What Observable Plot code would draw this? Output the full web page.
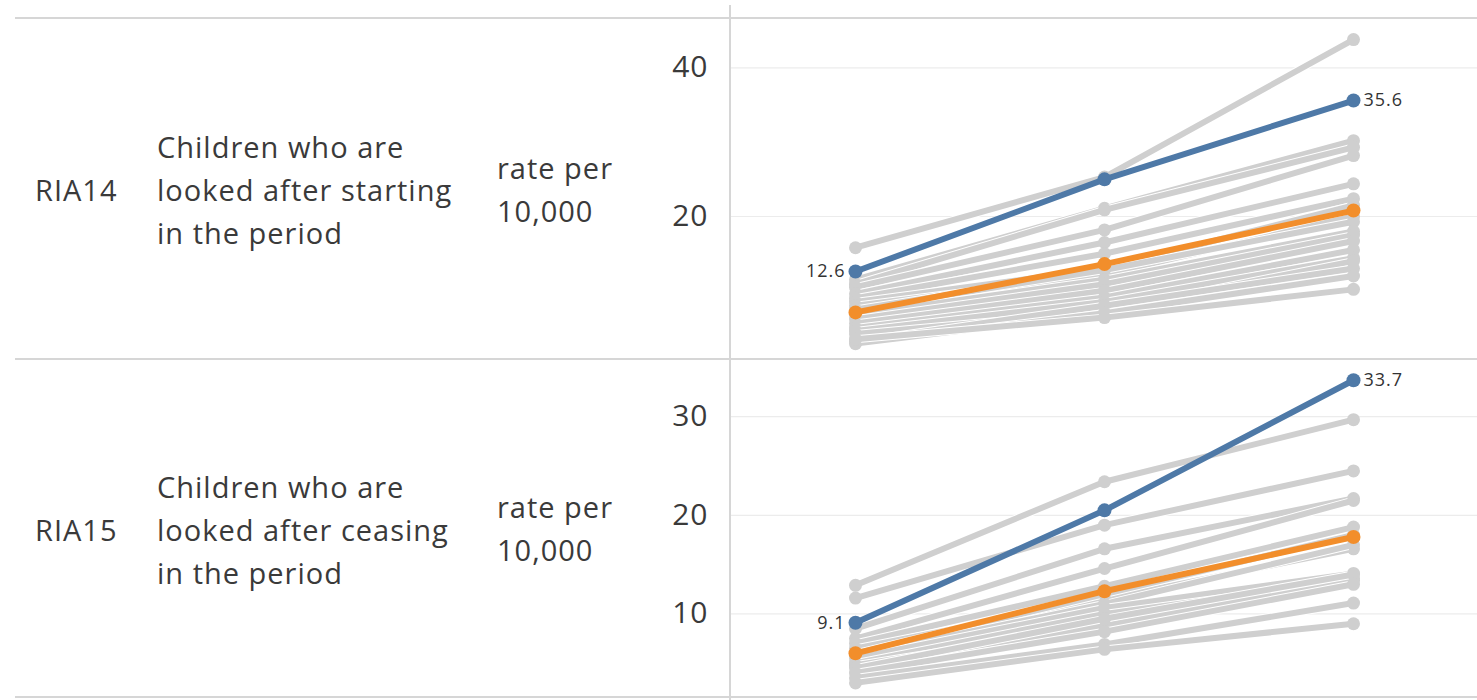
<!DOCTYPE html>
<html><head><meta charset="utf-8">
<script src="https://cdn.jsdelivr.net/npm/d3@7"></script>
<script src="https://cdn.jsdelivr.net/npm/@observablehq/plot@0.6"></script>
<style>
body{margin:0;background:#fff;font-family:"Open Sans",sans-serif;color:#3a3a3a;}
#root{position:relative;width:1477px;height:700px;overflow:hidden;background:#fff}
.hline{position:absolute;left:15px;width:1462px;height:2px;background:#d6d6d6;z-index:3}
.vline{position:absolute;left:729px;top:5px;width:2px;height:695px;background:#d6d6d6;z-index:3}
.cell{position:absolute;display:flex;flex-direction:column;justify-content:center;font-size:29px;letter-spacing:1px;line-height:43px;white-space:nowrap}
.plotwrap{position:absolute;left:640px;z-index:1}
.plotwrap svg text{letter-spacing:1px}
</style></head>
<body><div id="root"></div>
<script>
// ---- data ----
const periods = ["P1", "P2", "P3"];
const codes = ["RIA14", "RIA15"];
const titles = [
  ["Children who are", "looked after starting", "in the period"],
  ["Children who are", "looked after ceasing", "in the period"]
];
const units = [["rate per", "10,000"], ["rate per", "10,000"]];

const ria14Ticks = [20, 40];
const ria14Blue = [12.6, 25.0, 35.6];
const ria14Orange = [7.1, 13.6, 20.8];
const ria14Grey = [
  [15.8, 25.3, 43.8],
  [11.5, 21.1, 30.2],
  [10.9, 20.9, 29.3],
  [10.5, 18.2, 28.2],
  [9.6, 16.5, 24.4],
  [9.0, 15.0, 22.4],
  [8.5, 13.0, 21.5],
  [8.0, 12.2, 20.0],
  [7.5, 12.8, 19.3],
  [6.8, 11.5, 18.0],
  [6.2, 10.9, 17.5],
  [5.6, 10.0, 16.7],
  [5.0, 9.1, 15.5],
  [4.6, 8.5, 14.4],
  [4.2, 7.3, 14.0],
  [3.2, 8.0, 13.0],
  [2.9, 7.0, 12.0],
  [3.5, 6.4, 10.2]
];

const ria15Ticks = [10, 20, 30];
const ria15Blue = [9.1, 20.5, 33.7];
const ria15Orange = [6.0, 12.3, 17.8];
const ria15Grey = [
  [12.9, 23.4, 29.7],
  [11.6, 19.0, 24.5],
  [8.5, 16.6, 21.7],
  [7.5, 14.6, 21.5],
  [7.0, 12.8, 18.8],
  [6.5, 11.5, 16.6],
  [6.0, 12.0, 18.0],
  [5.8, 11.0, 17.0],
  [5.5, 10.6, 14.1],
  [5.0, 10.0, 13.4],
  [4.8, 8.8, 13.6],
  [4.5, 9.5, 14.0],
  [4.0, 8.2, 13.0],
  [3.5, 6.9, 11.1],
  [3.0, 6.4, 9.0]
];

// ---- helpers ----
const toRows = (vals, id) => vals.map((v, j) => ({period: periods[j], value: v, series: id}));

function panel(ticks, yDomain, blue, orange, greys, h) {
  const marks = [
    Plot.gridY(ticks, {stroke: "#ececec", strokeOpacity: 1, strokeWidth: 1.2}),
    Plot.axisY(ticks, {tickSize: 0, tickPadding: 22, fontSize: 30, fill: "#3a3a3a", label: null})
  ];
  greys.forEach((s, i) => {
    const rows = toRows(s, i);
    marks.push(Plot.line(rows, {x: "period", y: "value", stroke: "#ffffff", strokeWidth: 8}));
    marks.push(Plot.line(rows, {x: "period", y: "value", stroke: "#cfcfcf", strokeWidth: 6}));
    marks.push(Plot.dot(rows, {x: "period", y: "value", r: 6.5, fill: "#cfcfcf"}));
  });
  const o = toRows(orange, "orange");
  const b = toRows(blue, "blue");
  marks.push(Plot.line(o, {x: "period", y: "value", stroke: "#f28e2b", strokeWidth: 6}));
  marks.push(Plot.dot(o, {x: "period", y: "value", r: 7, fill: "#f28e2b"}));
  marks.push(Plot.line(b, {x: "period", y: "value", stroke: "#4e79a7", strokeWidth: 6}));
  marks.push(Plot.dot(b, {x: "period", y: "value", r: 7, fill: "#4e79a7"}));
  marks.push(Plot.text([b[0]], {x: "period", y: "value", text: d => d.value.toFixed(1), textAnchor: "end", dx: -10, fontSize: 18, fill: "#333"}));
  marks.push(Plot.text([b[2]], {x: "period", y: "value", text: d => d.value.toFixed(1), textAnchor: "start", dx: 10, fontSize: 18, fill: "#333"}));
  return Plot.plot({
    width: 837, height: h,
    marginLeft: 90, marginRight: 0, marginTop: 0, marginBottom: 0,
    x: {type: "point", domain: periods, padding: 0.5, axis: null},
    y: {domain: yDomain, axis: null},
    style: {fontFamily: "'Open Sans', sans-serif", background: "transparent", overflow: "visible"},
    marks
  });
}

const root = document.getElementById("root");
function add(html) { const d = document.createElement("div"); d.innerHTML = html; const el = d.firstChild; root.appendChild(el); return el; }

[17, 358, 696].forEach(y => add(`<div class="hline" style="top:${y}px"></div>`));
add(`<div class="vline"></div>`);

const rows = [
  {top: 19, h: 339, ticks: ria14Ticks, dom: [0.9, 46.5], blue: ria14Blue, orange: ria14Orange, grey: ria14Grey},
  {top: 360, h: 336, ticks: ria15Ticks, dom: [1.62, 35.7], blue: ria15Blue, orange: ria15Orange, grey: ria15Grey}
];
rows.forEach((r, i) => {
  const c1 = add(`<div class="cell" style="left:35px;top:${r.top}px;height:${r.h + 2}px"></div>`);
  c1.textContent = codes[i];
  const c2 = add(`<div class="cell" style="left:157px;top:${r.top}px;height:${r.h + 2}px"></div>`);
  titles[i].forEach(t => { const s = document.createElement("div"); s.textContent = t; c2.appendChild(s); });
  const c3 = add(`<div class="cell" style="left:497px;top:${r.top}px;height:${r.h}px"></div>`);
  units[i].forEach(t => { const s = document.createElement("div"); s.textContent = t; c3.appendChild(s); });
  const w = add(`<div class="plotwrap" style="top:${r.top}px"></div>`);
  w.appendChild(panel(r.ticks, r.dom, r.blue, r.orange, r.grey, r.h));
});
</script>
</body></html>
